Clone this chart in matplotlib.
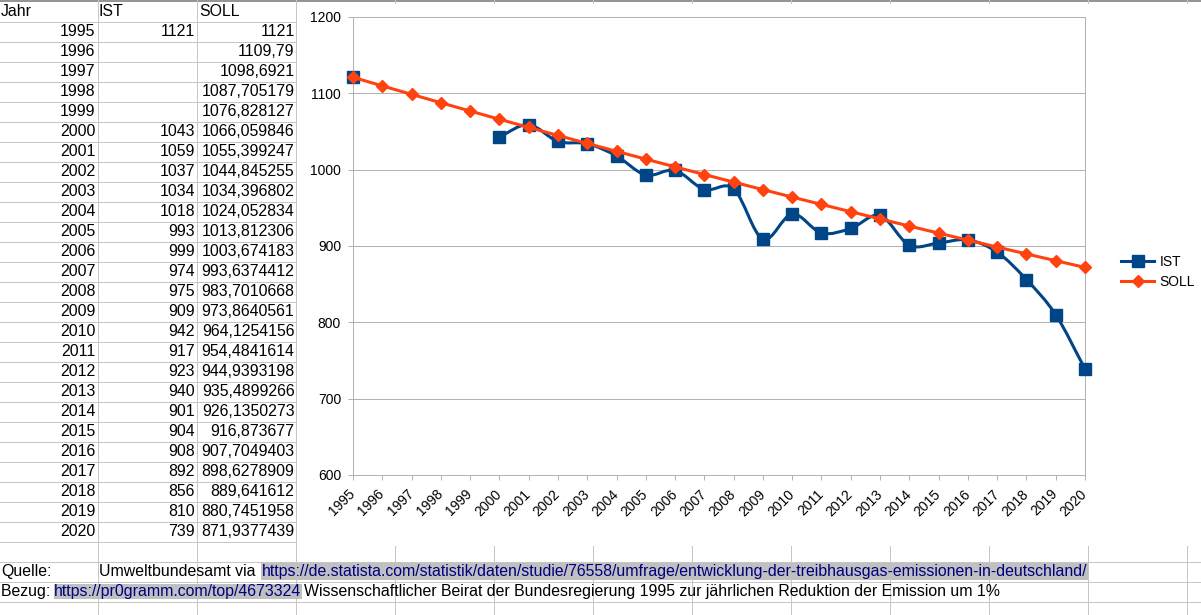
import numpy as np
import matplotlib
matplotlib.use("Agg")
import matplotlib.pyplot as plt
from matplotlib.path import Path
from matplotlib.patches import PathPatch, Rectangle
from matplotlib.lines import Line2D

plt.rcParams['font.family'] = ['Liberation Sans', 'DejaVu Sans']

# table / chart data
jahre = list(range(1995, 2021))
ist = [1121, None, None, None, None, 1043, 1059, 1037, 1034, 1018, 993, 999, 974,
       975, 909, 942, 917, 923, 940, 901, 904, 908, 892, 856, 810, 739]
soll_txt = ["1121", "1109,79", "1098,6921", "1087,705179", "1076,828127",
            "1066,059846", "1055,399247", "1044,845255", "1034,396802",
            "1024,052834", "1013,812306", "1003,674183", "993,6374412",
            "983,7010668", "973,8640561", "964,1254156", "954,4841614",
            "944,9393198", "935,4899266", "926,1350273", "916,873677",
            "907,7049403", "898,6278909", "889,641612", "880,7451958",
            "871,9377439"]
soll = [float(s.replace(",", ".")) for s in soll_txt]

quelle_text = "Umweltbundesamt via "
quelle_link = "https://de.statista.com/statistik/daten/studie/76558/umfrage/entwicklung-der-treibhausgas-emissionen-in-deutschland/"
bezug_link = "https://pr0gramm.com/top/4673324"
bezug_text = " Wissenschaftlicher Beirat der Bundesregierung 1995 zur jährlichen Reduktion der Emission um 1%"

W, H = 1201, 615
CELL_FS = 11.4
CHART_FS = 10
C_IST = "#004586"
C_SOLL = "#ff420e"
GRID = "#c6c6c6"
LINK_BG = "#c0c0c0"
LINK_FG = "#000080"


def smooth_path(xs, ys):
    # bezier segments through the points (like the spreadsheet's smoothed line)
    xs = np.asarray(xs, float)
    ys = np.asarray(ys, float)
    mx = np.gradient(xs)
    my = np.gradient(ys)
    verts = [(xs[0], ys[0])]
    codes = [Path.MOVETO]
    for i in range(len(xs) - 1):
        verts += [(xs[i] + mx[i] / 3, ys[i] + my[i] / 3),
                  (xs[i + 1] - mx[i + 1] / 3, ys[i + 1] - my[i + 1] / 3),
                  (xs[i + 1], ys[i + 1])]
        codes += [Path.CURVE4] * 3
    return Path(verts, codes)


fig = plt.figure(figsize=(W / 100, H / 100), dpi=100)
bg = fig.add_axes([0, 0, 1, 1])
bg.set_xlim(0, W)
bg.set_ylim(H, 0)
bg.axis("off")

# spreadsheet grid
for k in range(30):
    bg.axhline(21.5 + 20 * k, color=GRID, lw=0.72, zorder=1)
bg.axhline(0.7, color="#808080", lw=1.2, zorder=1)
col_edges = [97.5, 196.5, 295.5, 394.5, 493.5, 592.5, 691.5, 790.5,
             889.5, 988.5, 1087.5, 1186.5]
for x in col_edges:
    bg.axvline(x, color=GRID, lw=0.72, zorder=1)

# table cells
bg.text(1, 11.5, "Jahr", fontsize=CELL_FS, va="center", ha="left")
bg.text(99, 11.5, "IST", fontsize=CELL_FS, va="center", ha="left")
bg.text(199, 11.5, "SOLL", fontsize=CELL_FS, va="center", ha="left")
for i, j in enumerate(jahre):
    y = 31.5 + 20 * i
    bg.text(95.5, y, str(j), fontsize=CELL_FS, va="center", ha="right")
    if ist[i] is not None:
        bg.text(195, y, str(ist[i]), fontsize=CELL_FS, va="center", ha="right")
    bg.text(294.5, y, soll_txt[i], fontsize=CELL_FS, va="center", ha="right")

# footer rows
bg.text(1, 571.5, "Quelle:", fontsize=CELL_FS, va="center", ha="left")
bg.text(99, 571.5, quelle_text, fontsize=CELL_FS, va="center", ha="left")
bg.text(262, 571.5, quelle_link, fontsize=CELL_FS, va="center", ha="left",
        color=LINK_FG, zorder=3,
        bbox=dict(boxstyle="square,pad=0.05", fc=LINK_BG, ec="none"))
bg.text(1, 591.5, "Bezug: ", fontsize=CELL_FS, va="center", ha="left")
bg.text(54, 591.5, bezug_link, fontsize=CELL_FS, va="center", ha="left",
        color=LINK_FG, zorder=3,
        bbox=dict(boxstyle="square,pad=0.02", fc=LINK_BG, ec="none"))
bg.text(303.5, 591.5, bezug_text.strip(), fontsize=CELL_FS, va="center",
        ha="left", zorder=3)

# chart object background
bg.add_patch(Rectangle((296.5, 4), W - 296.5, 542, fc="white", ec="none",
                       zorder=2))

# chart
ax = fig.add_axes([353 / W, (H - 475) / H, (1085 - 353) / W, (475 - 17) / H])
ax.set_facecolor("white")
xpos = np.arange(len(jahre))
ax.set_xlim(0, len(jahre) - 1)
ax.set_ylim(600, 1200)
ax.set_yticks(range(600, 1201, 100))
ax.set_xticks(xpos)
ax.set_xticklabels([str(j) for j in jahre], rotation=45, ha="right",
                   va="center", rotation_mode="anchor")
ax.tick_params(axis="both", direction="out", length=3.6, width=0.72,
               color="#b3b3b3", labelsize=CHART_FS, labelcolor="black")
ax.tick_params(axis="y", pad=5)
ax.tick_params(axis="x", pad=8.5)
ax.grid(axis="y", color="#b3b3b3", lw=0.72)
ax.set_axisbelow(True)
for s in ax.spines.values():
    s.set_color("#b3b3b3")
    s.set_linewidth(0.72)

# IST (gap 1996-1999)
ist_x = [xpos[i] for i in range(len(ist)) if ist[i] is not None]
ist_y = [v for v in ist if v is not None]
seg_x = [x for x in ist_x if x >= 5]
seg_y = [ist[x] for x in seg_x]
ax.add_patch(PathPatch(smooth_path(seg_x, seg_y), fc="none", ec=C_IST,
                       lw=2.2, zorder=3, capstyle="round", joinstyle="round"))
ax.plot(ist_x, ist_y, ls="none", marker="s", ms=8.5, color=C_IST, zorder=4,
        clip_on=False)

# SOLL
ax.add_patch(PathPatch(smooth_path(xpos, soll), fc="none", ec=C_SOLL,
                       lw=2.2, zorder=5, capstyle="round", joinstyle="round"))
ax.plot(xpos, soll, ls="none", marker="D", ms=6.5, color=C_SOLL, zorder=6,
        clip_on=False)

handles = [Line2D([], [], color=C_IST, lw=2.2, marker="s", ms=8.5),
           Line2D([], [], color=C_SOLL, lw=2.2, marker="D", ms=6.5)]
fig.legend(handles, ["IST", "SOLL"], loc="center left",
           bbox_to_anchor=(1121 / W, (H - 272) / H), frameon=False,
           fontsize=CHART_FS, handlelength=2.4, handletextpad=0.36,
           labelspacing=0.44, borderpad=0, borderaxespad=0)

fig.savefig("out.png", dpi=100)
